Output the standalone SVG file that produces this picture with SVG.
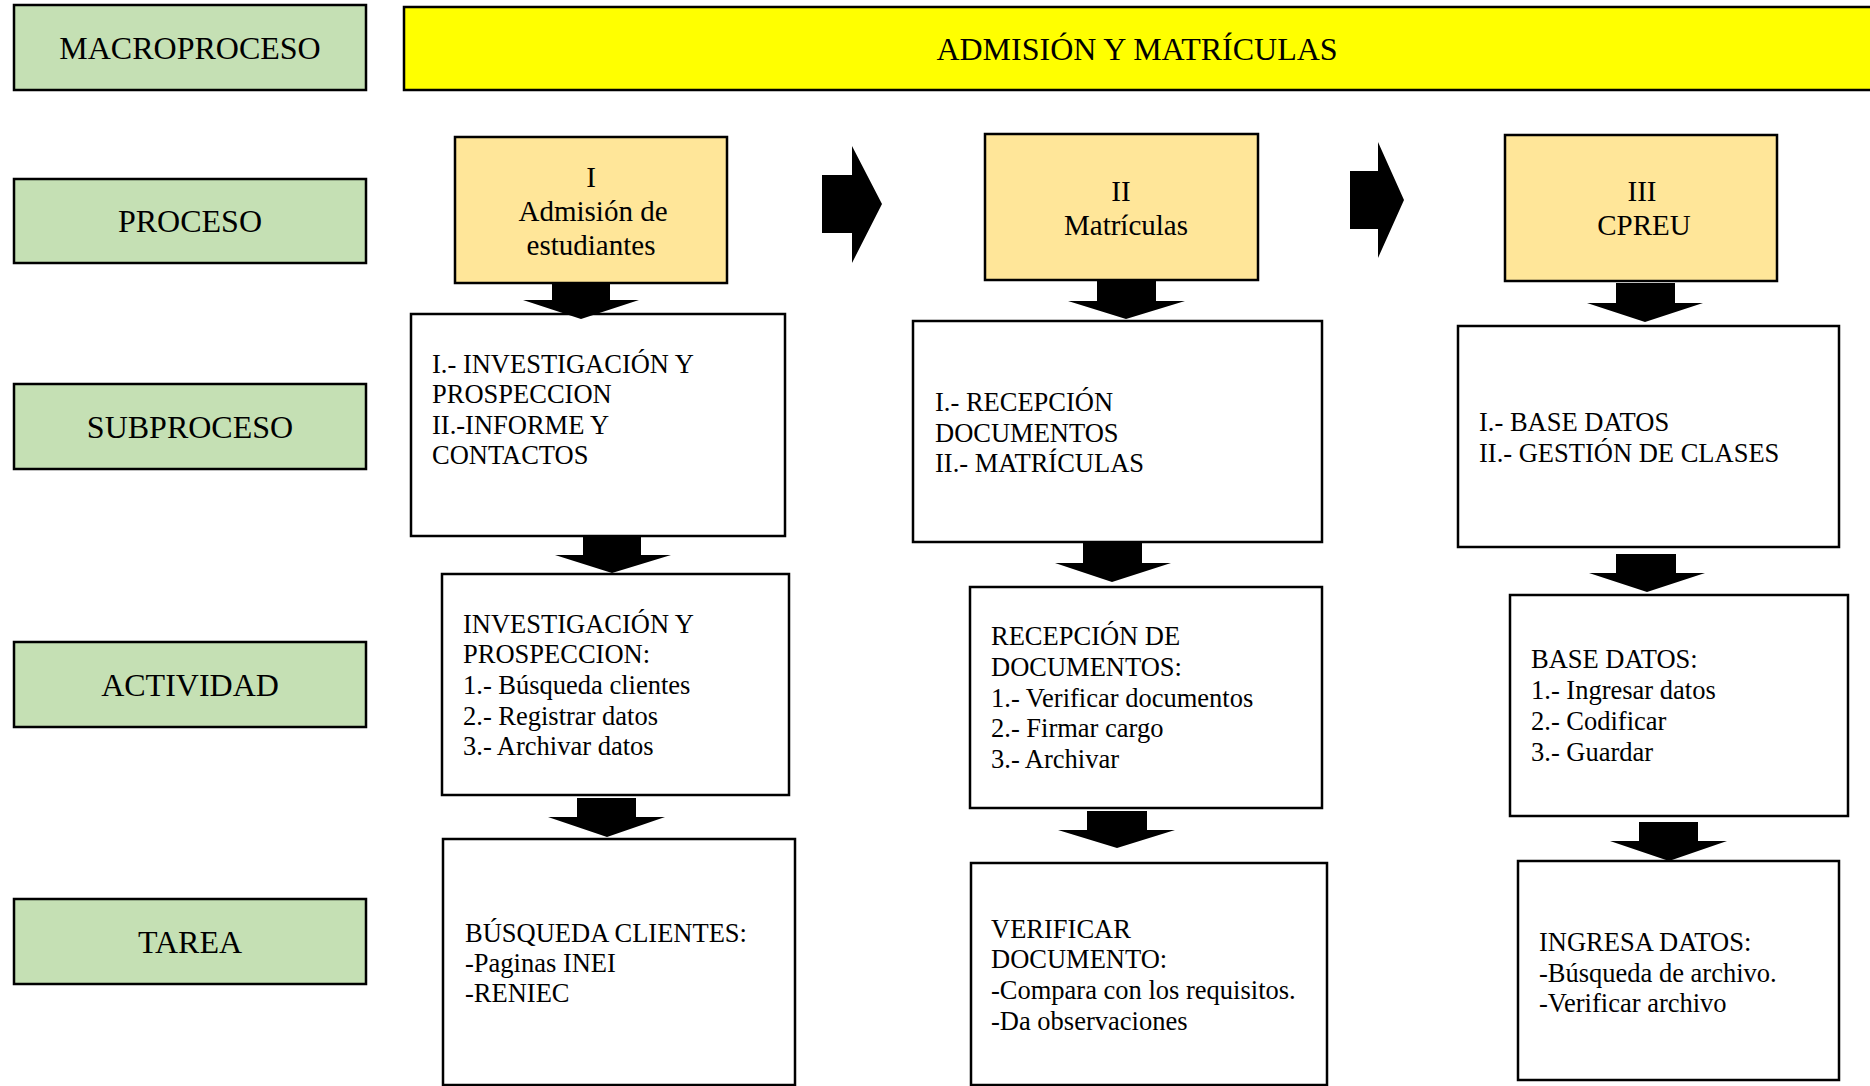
<svg xmlns="http://www.w3.org/2000/svg" width="1870" height="1086" viewBox="0 0 1870 1086">
  <style>
    text { font-family: "Liberation Serif", "Times New Roman", serif; fill: #000; }
    .box { stroke: #000; stroke-width: 2.5; }
    .level { fill: #C5E0B4; }
    .macro { fill: #FFFF00; }
    .proc { fill: #FFE699; }
    .plain { fill: #FFFFFF; }
    .lbl { font-size: 32px; text-anchor: middle; }
    .ptxt { font-size: 29px; text-anchor: middle; }
    .body { font-size: 26.5px; }
    .arrow { fill: #000; stroke: none; }
  </style>
  <rect width="1870" height="1086" fill="#FFFFFF"/>

  <!-- Level labels (left column) -->
  <g id="lvl-macroproceso">
    <rect class="box level" x="14" y="5" width="352" height="85"/>
    <text class="lbl" x="190" y="59">MACROPROCESO</text>
  </g>
  <g id="lvl-proceso">
    <rect class="box level" x="14" y="179" width="352" height="84"/>
    <text class="lbl" x="190" y="232">PROCESO</text>
  </g>
  <g id="lvl-subproceso">
    <rect class="box level" x="14" y="384" width="352" height="85"/>
    <text class="lbl" x="190" y="438">SUBPROCESO</text>
  </g>
  <g id="lvl-actividad">
    <rect class="box level" x="14" y="642" width="352" height="85"/>
    <text class="lbl" x="190" y="696">ACTIVIDAD</text>
  </g>
  <g id="lvl-tarea">
    <rect class="box level" x="14" y="899" width="352" height="85"/>
    <text class="lbl" x="190" y="953">TAREA</text>
  </g>

  <!-- Macroprocess banner -->
  <g id="macro">
    <rect class="box macro" x="404" y="7" width="1480" height="83"/>
    <text class="lbl" x="1137" y="60">ADMISIÓN Y MATRÍCULAS</text>
  </g>

  <!-- Processes -->
  <g id="proc-1">
    <rect class="box proc" x="455" y="137" width="272" height="146"/>
    <text class="ptxt" x="591" y="187">I</text>
    <text class="ptxt" x="593" y="221">Admisión de</text>
    <text class="ptxt" x="591" y="255">estudiantes</text>
  </g>
  <g id="proc-2">
    <rect class="box proc" x="985" y="134" width="273" height="146"/>
    <text class="ptxt" x="1121" y="201">II</text>
    <text class="ptxt" x="1126" y="235">Matrículas</text>
  </g>
  <g id="proc-3">
    <rect class="box proc" x="1505" y="135" width="272" height="146"/>
    <text class="ptxt" x="1642" y="201">III</text>
    <text class="ptxt" x="1644" y="235">CPREU</text>
  </g>

  <!-- Subprocesses -->
  <g id="sub-1">
    <rect class="box plain" x="411" y="314" width="374" height="222"/>
    <text class="body" x="432" y="373">I.- INVESTIGACIÓN Y</text>
    <text class="body" x="432" y="403">PROSPECCION</text>
    <text class="body" x="432" y="434">II.-INFORME Y</text>
    <text class="body" x="432" y="464">CONTACTOS</text>
  </g>
  <g id="sub-2">
    <rect class="box plain" x="913" y="321" width="409" height="221"/>
    <text class="body" x="935" y="411">I.- RECEPCIÓN</text>
    <text class="body" x="935" y="442">DOCUMENTOS</text>
    <text class="body" x="935" y="472">II.- MATRÍCULAS</text>
  </g>
  <g id="sub-3">
    <rect class="box plain" x="1458" y="326" width="381" height="221"/>
    <text class="body" x="1479" y="431">I.- BASE DATOS</text>
    <text class="body" x="1479" y="462">II.- GESTIÓN DE CLASES</text>
  </g>

  <!-- Activities -->
  <g id="act-1">
    <rect class="box plain" x="442" y="574" width="347" height="221"/>
    <text class="body" x="463" y="633">INVESTIGACIÓN Y</text>
    <text class="body" x="463" y="663">PROSPECCION:</text>
    <text class="body" x="463" y="694">1.- Búsqueda clientes</text>
    <text class="body" x="463" y="725">2.- Registrar datos</text>
    <text class="body" x="463" y="755">3.- Archivar datos</text>
  </g>
  <g id="act-2">
    <rect class="box plain" x="970" y="587" width="352" height="221"/>
    <text class="body" x="991" y="645">RECEPCIÓN DE</text>
    <text class="body" x="991" y="676">DOCUMENTOS:</text>
    <text class="body" x="991" y="707">1.- Verificar documentos</text>
    <text class="body" x="991" y="737">2.- Firmar cargo</text>
    <text class="body" x="991" y="768">3.- Archivar</text>
  </g>
  <g id="act-3">
    <rect class="box plain" x="1510" y="595" width="338" height="221"/>
    <text class="body" x="1531" y="668">BASE DATOS:</text>
    <text class="body" x="1531" y="699">1.- Ingresar datos</text>
    <text class="body" x="1531" y="730">2.- Codificar</text>
    <text class="body" x="1531" y="761">3.- Guardar</text>
  </g>

  <!-- Tasks -->
  <g id="task-1">
    <rect class="box plain" x="443" y="839" width="352" height="246"/>
    <text class="body" x="465" y="942">BÚSQUEDA CLIENTES:</text>
    <text class="body" x="465" y="972">-Paginas INEI</text>
    <text class="body" x="465" y="1002">-RENIEC</text>
  </g>
  <g id="task-2">
    <rect class="box plain" x="971" y="863" width="356" height="222"/>
    <text class="body" x="991" y="938">VERIFICAR</text>
    <text class="body" x="991" y="968">DOCUMENTO:</text>
    <text class="body" x="991" y="999">-Compara con los requisitos.</text>
    <text class="body" x="991" y="1030">-Da observaciones</text>
  </g>
  <g id="task-3">
    <rect class="box plain" x="1518" y="861" width="321" height="219"/>
    <text class="body" x="1539" y="951">INGRESA DATOS:</text>
    <text class="body" x="1539" y="982">-Búsqueda de archivo.</text>
    <text class="body" x="1539" y="1012">-Verificar archivo</text>
  </g>

  <!-- Block arrows -->
  <g id="connectors" class="arrow">
    <!-- between processes -->
    <polygon points="822,175 852,175 852,146 882,204 852,263 852,233 822,233"/>
    <polygon points="1350,171 1378,171 1378,142 1404,200 1378,258 1378,229 1350,229"/>
    <!-- process to subprocess -->
    <polygon points="552,283 610,283 610,300 639,300 581,319 523,300 552,300"/>
    <polygon points="1097,281 1156,281 1156,301 1185,301 1126,319 1068,301 1097,301"/>
    <polygon points="1616,283 1675,283 1675,303 1703,303 1645,322 1587,303 1616,303"/>
    <!-- subprocess to activity -->
    <polygon points="583,536 641,536 641,555 671,555 612,573 555,555 583,555"/>
    <polygon points="1083,543 1142,543 1142,563 1171,563 1112,582 1055,563 1083,563"/>
    <polygon points="1616,554 1676,554 1676,573 1705,573 1647,592 1589,573 1616,573"/>
    <!-- activity to task -->
    <polygon points="577,798 636,798 636,817 665,817 607,837 548,817 577,817"/>
    <polygon points="1087,811 1147,811 1147,830 1175,830 1117,848 1058,830 1087,830"/>
    <polygon points="1639,822 1698,822 1698,841 1727,841 1669,861 1610,841 1639,841"/>
  </g>
</svg>
